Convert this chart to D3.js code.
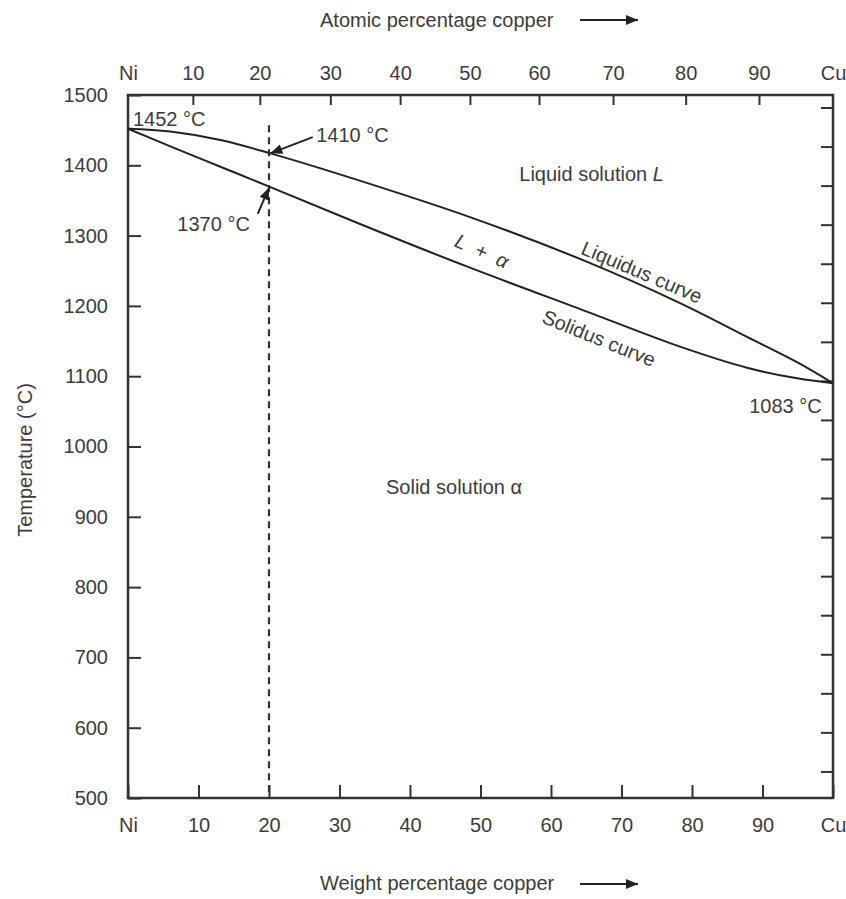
<!DOCTYPE html>
<html>
<head>
<meta charset="utf-8">
<script src="https://cdn.jsdelivr.net/npm/d3@7"></script>
<style>
  body { margin: 0; background: #fff; }
  text { font-family: "Liberation Sans", Arial, sans-serif; fill: #3c3c3c; }
</style>
</head>
<body>
<script>

// data

const weightPct = [0, 6, 13.1, 20.2, 32.3, 48.6, 64.8, 78.3, 87.8, 94.9, 100];
const liquidusT = [1452, 1448, 1436, 1417, 1380, 1326, 1264, 1204, 1156, 1120, 1090];
const solidusT  = [1452, 1427, 1398, 1369, 1319, 1254, 1193, 1142, 1112, 1097, 1090];

const weightTicks  = [0, 10, 20, 30, 40, 50, 60, 70, 80, 90, 100];
const weightLabels = ["Ni", "10", "20", "30", "40", "50", "60", "70", "80", "90", "Cu"];

// atomic % ticks, placed where they sit on the weight % scale
const atomicTickPos = [0, 9.2, 18.7, 28.7, 38.6, 48.5, 58.3, 68.8, 79.1, 89.5, 100];
const atomicLabels  = ["Ni", "10", "20", "30", "40", "50", "60", "70", "80", "90", "Cu"];

const tempTicks = [500, 600, 700, 800, 900, 1000, 1100, 1200, 1300, 1400, 1500];
// unlabeled fahrenheit ticks on the right edge
const fahrenheitTicks = [1000, 1100, 1200, 1300, 1400, 1500, 1600, 1700, 1800,
                         1900, 2000, 2100, 2200, 2300, 2400, 2500, 2600, 2700];

const w = 846;
const h = 899;

const x = d3.scaleLinear().domain([0, 100]).range([128, 833]);
const y = d3.scaleLinear().domain([500, 1500]).range([798, 95]);

const svg = d3.select("body")
  .append("svg")
    .attr("width", w)
    .attr("height", h);

svg.append("defs").append("marker")
    .attr("id", "head")
    .attr("markerUnits", "userSpaceOnUse")
    .attr("markerWidth", 12)
    .attr("markerHeight", 10)
    .attr("refX", 12)
    .attr("refY", 5)
    .attr("orient", "auto")
  .append("path")
    .attr("d", "M0,0 L12,5 L0,10 Z")
    .attr("fill", "#222");

// axes

const fs = 20;

const bottomAxis = d3.axisBottom(x)
    .tickValues(weightTicks)
    .tickFormat((d, i) => weightLabels[i])
    .tickSizeInner(-13)
    .tickSizeOuter(0)
    .tickPadding(20);

const topAxis = d3.axisTop(x)
    .tickValues(atomicTickPos)
    .tickFormat((d, i) => atomicLabels[i])
    .tickSizeInner(-10)
    .tickSizeOuter(0)
    .tickPadding(15);

const leftAxis = d3.axisLeft(y)
    .tickValues(tempTicks)
    .tickFormat(d3.format("d"))
    .tickSizeInner(-13)
    .tickSizeOuter(0)
    .tickPadding(20);

const rightAxis = d3.axisRight(y)
    .tickValues(fahrenheitTicks.map(f => (f - 32) * 5 / 9))
    .tickFormat("")
    .tickSizeInner(-12)
    .tickSizeOuter(0);

function style(g) {
  g.select(".domain").remove();
  g.selectAll("line").attr("stroke", "#333").attr("stroke-width", 2);
  g.selectAll("text").attr("font-size", fs).attr("fill", "#3c3c3c")
    .attr("font-family", "Liberation Sans, Arial, sans-serif");
}

svg.append("g")
    .attr("transform", `translate(0, ${y(500)})`)
    .call(bottomAxis)
    .call(style);

svg.append("g")
    .attr("transform", `translate(0, ${y(1500)})`)
    .call(topAxis)
    .call(style)
    .selectAll(".tick line")
    .attr("display", (d, i) => (i === 0 || i === atomicTickPos.length - 1) ? "none" : null);

svg.append("g")
    .attr("transform", `translate(${x(0)}, 0)`)
    .call(leftAxis)
    .call(style);

svg.append("g")
    .attr("transform", `translate(${x(100)}, 0)`)
    .call(rightAxis)
    .call(style);

// frame

svg.append("rect")
    .attr("x", x(0))
    .attr("y", y(1500))
    .attr("width", x(100) - x(0))
    .attr("height", y(500) - y(1500))
    .attr("fill", "none")
    .attr("stroke", "#333")
    .attr("stroke-width", 2.5);

// dashed 20 wt% line

svg.append("line")
    .attr("x1", x(20)).attr("x2", x(20))
    .attr("y1", y(1457)).attr("y2", y(500))
    .attr("stroke", "#333")
    .attr("stroke-width", 2.2)
    .attr("stroke-dasharray", "7,5");

// curves

const line = d3.line()
    .x(d => x(d[0]))
    .y(d => y(d[1]))
    .curve(d3.curveCatmullRom);

[liquidusT, solidusT].forEach(temps => {
  svg.append("path")
      .datum(weightPct.map((wp, i) => [wp, temps[i]]))
      .attr("d", line)
      .attr("fill", "none")
      .attr("stroke", "#222")
      .attr("stroke-width", 2);
});

// arrows to the 20 wt% points

svg.append("line")
    .attr("x1", x(26.2)).attr("y1", y(1440))
    .attr("x2", x(20.2)).attr("y2", y(1417))
    .attr("stroke", "#222").attr("stroke-width", 2)
    .attr("marker-end", "url(#head)");

svg.append("line")
    .attr("x1", x(18.4)).attr("y1", y(1331))
    .attr("x2", x(20)).attr("y2", y(1368))
    .attr("stroke", "#222").attr("stroke-width", 2)
    .attr("marker-end", "url(#head)");

// labels

function label(txt, px, py, anchor) {
  return svg.append("text")
      .attr("x", px)
      .attr("y", py)
      .attr("font-size", fs)
      .attr("text-anchor", anchor || "start")
      .text(txt);
}

label("1452 °C", x(0.7), y(1456));
label("1410 °C", x(26.7), y(1433));
label("1370 °C", x(7.0), y(1306));
label("1083 °C", x(98.4), y(1047), "end");

const liq = label("Liquid solution ", x(55.5), y(1377));
liq.append("tspan").attr("font-style", "italic").text("L");

label("Solid solution α", x(36.6), y(932));

function rotated(px, py, angle) {
  return svg.append("text")
      .attr("transform", `translate(${px}, ${py}) rotate(${angle})`)
      .attr("font-size", fs)
      .attr("text-anchor", "middle")
      .attr("dy", "0.35em");
}

const la = rotated(x(50.2), y(1278), 24);
la.append("tspan").attr("font-style", "italic").text("L");
la.append("tspan").text("  +  ");
la.append("tspan").attr("font-style", "italic").text("α");
la.style("white-space", "pre");

rotated(x(72.9), y(1248), 23).text("Liquidus curve");
rotated(x(66.8), y(1154), 22).text("Solidus curve");

label("Temperature (°C)", 0, 0, "middle")
    .attr("transform", "translate(32, 460) rotate(-90)")
    .attr("x", null).attr("y", null);

// axis titles with arrows

label("Atomic percentage copper", 320, 27);
svg.append("line")
    .attr("x1", 580).attr("y1", 20).attr("x2", 638).attr("y2", 20)
    .attr("stroke", "#222").attr("stroke-width", 2)
    .attr("marker-end", "url(#head)");

label("Weight percentage copper", 320, 890);
svg.append("line")
    .attr("x1", 580).attr("y1", 884).attr("x2", 638).attr("y2", 884)
    .attr("stroke", "#222").attr("stroke-width", 2)
    .attr("marker-end", "url(#head)");

</script>
</body>
</html>
